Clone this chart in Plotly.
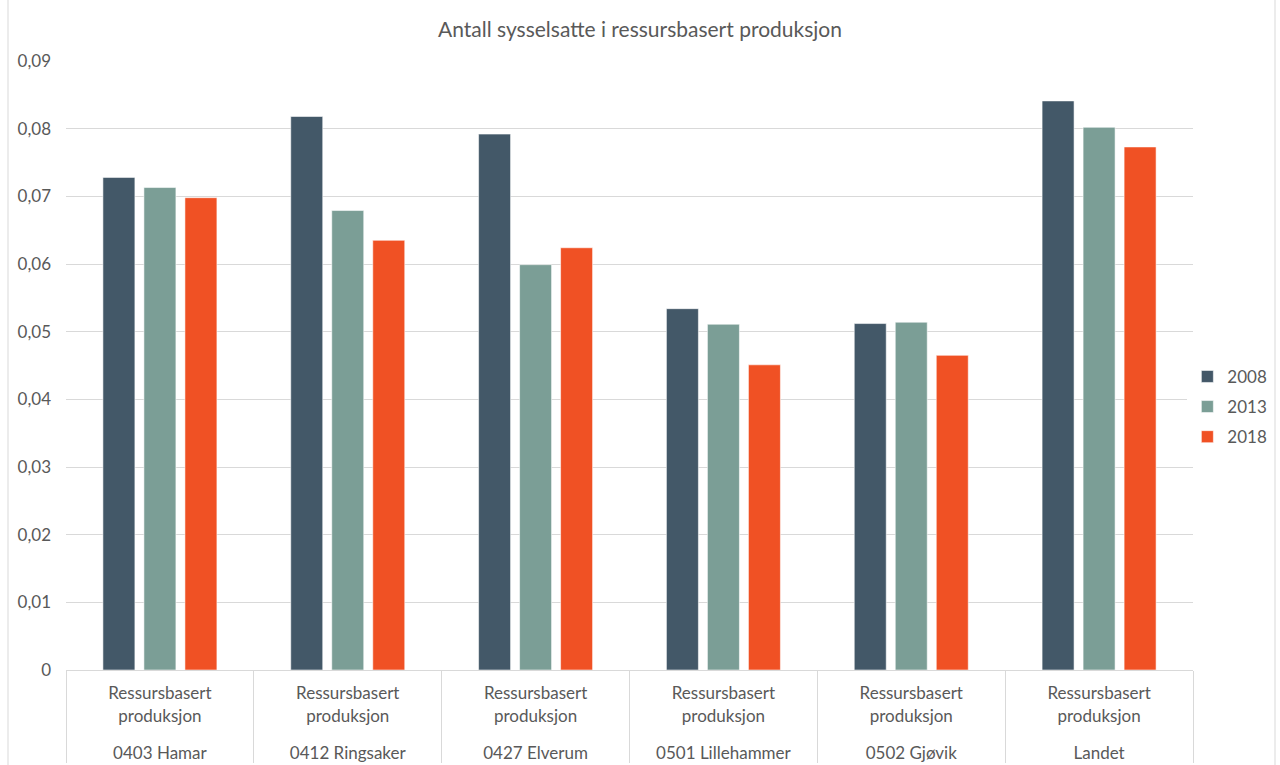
import plotly.graph_objects as go

# Regions and the single sector shown for each
regions = ["0403 Hamar", "0412 Ringsaker", "0427 Elverum",
           "0501 Lillehammer", "0502 Gjøvik", "Landet"]
sector = "Ressursbasert<br>produksjon<br> "

years = ["2008", "2013", "2018"]
values_2008 = [0.0728, 0.0818, 0.0792, 0.0534, 0.0512, 0.0841]
values_2013 = [0.0713, 0.0679, 0.0599, 0.0511, 0.0514, 0.0802]
values_2018 = [0.0698, 0.0635, 0.0624, 0.0451, 0.0465, 0.0773]

colors = ["#435868", "#7B9E96", "#F05124"]
text_color = "#595959"
grid_color = "#D9D9D9"
font_family = "Lato, Carlito, Calibri, sans-serif"

x = [regions, [sector] * len(regions)]

fig = go.Figure()
for year, vals, col in zip(years, [values_2008, values_2013, values_2018], colors):
    fig.add_trace(go.Bar(
        x=x, y=vals, name=year, legendgroup=year,
        marker=dict(color=col, line=dict(color="rgba(255,255,255,0.55)", width=1)),
    ))

fig.update_layout(
    width=1280, height=765,
    margin=dict(l=66, r=87, t=61, b=95, autoexpand=False),
    paper_bgcolor="white", plot_bgcolor="white",
    separators=", ",
    barmode="group", bargap=0.345, bargroupgap=0.22,
    font=dict(family=font_family, size=17, color=text_color),
    title=dict(text="Antall sysselsatte i ressursbasert produksjon",
               x=0.5, xref="container", xanchor="center",
               y=1 - 30 / 765, yref="container", yanchor="middle",
               font=dict(size=21, color=text_color)),
    legend=dict(x=0.995, xanchor="left", y=0.432, yanchor="middle",
                font=dict(size=17, color=text_color), tracegroupgap=5,
                itemwidth=30),
    showlegend=True,
)

fig.update_yaxes(
    range=[0, 0.09], dtick=0.01, tickformat=".2~f",
    showgrid=True, gridcolor=grid_color, gridwidth=1,
    zeroline=False, showline=False, ticks="",
    ticklabelstandoff=14,
    tickfont=dict(size=17, color=text_color),
)
fig.update_xaxes(
    type="multicategory",
    showline=True, linecolor=grid_color, linewidth=1,
    showdividers=True, dividercolor=grid_color, dividerwidth=1,
    ticks="", ticklabelstandoff=8,
    tickfont=dict(size=17, color=text_color),
)

# Outer frame of the chart area
for xp in [(8 - 66) / 1127, (1275 - 66) / 1127]:
    fig.add_shape(type="line", xref="paper", yref="paper",
                  x0=xp, x1=xp, y0=-95 / 609, y1=(670) / 609,
                  line=dict(color=grid_color, width=1))

fig.write_html("out.html")
